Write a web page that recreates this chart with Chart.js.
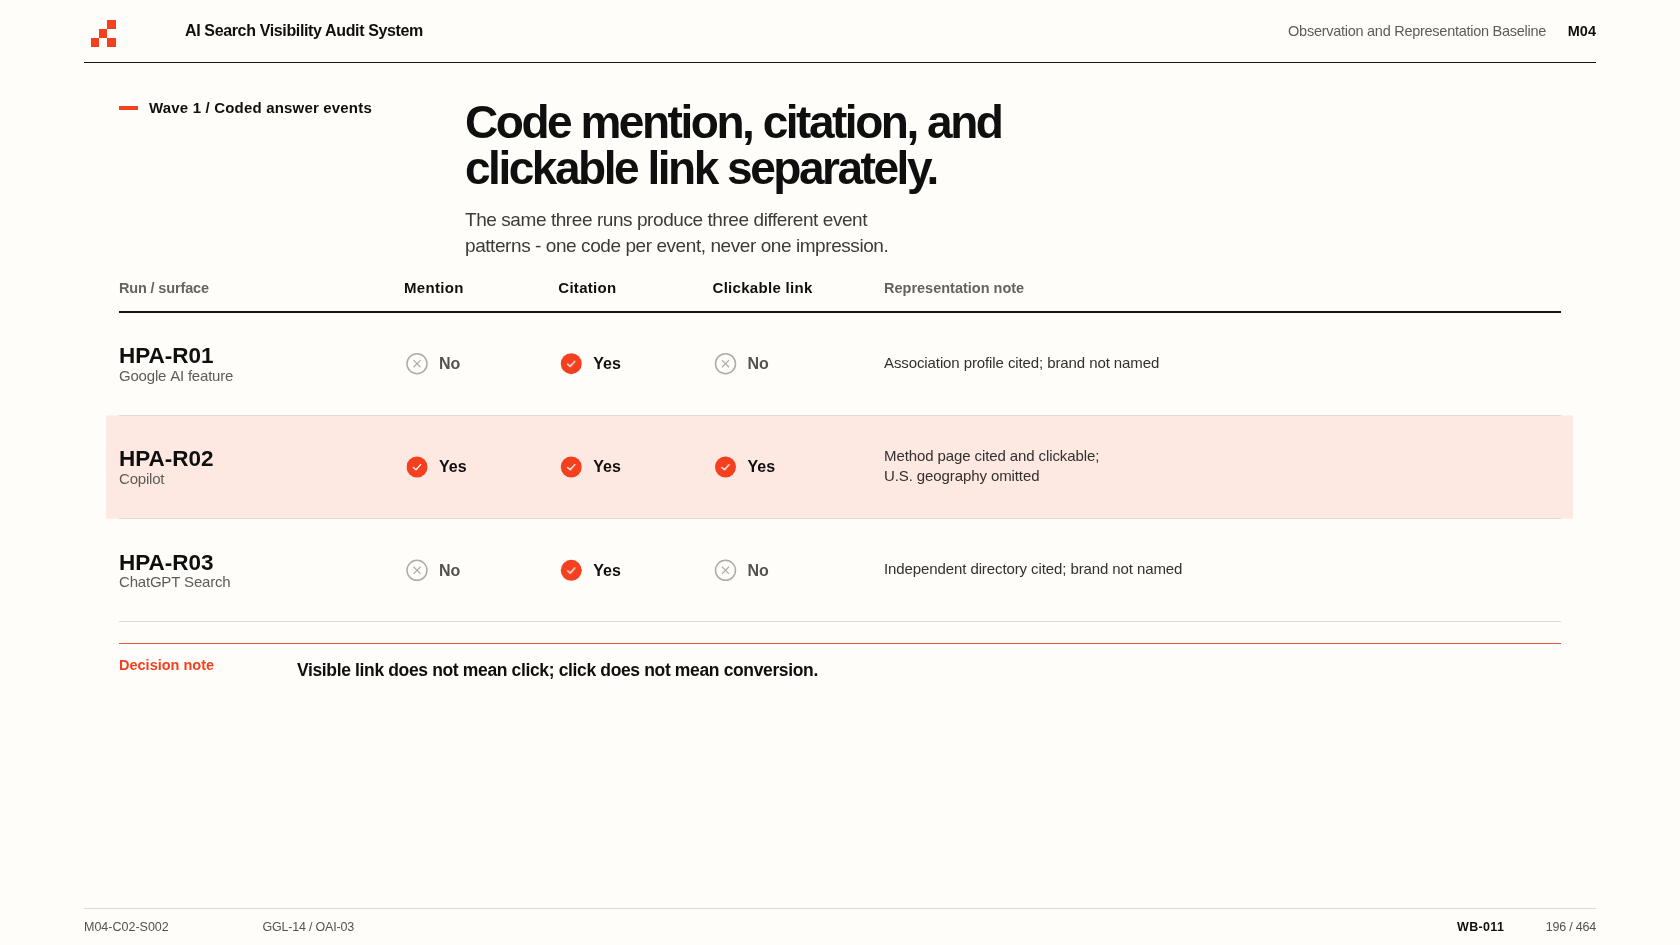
<!doctype html>
<html>
<head>
<meta charset="utf-8">
<script src="https://cdn.jsdelivr.net/npm/chart.js@4/dist/chart.umd.min.js"></script>
<style>
html,body{margin:0;padding:0;background:#fffdf9}
body{width:1680px;height:945px;overflow:hidden;position:relative;font-family:"Liberation Sans",Arial,sans-serif;color:#0f0f0f}
canvas{position:absolute;left:0;top:0}
.t{position:absolute;white-space:nowrap;line-height:1}
.rule{position:absolute;height:1px}
.sq{position:absolute;width:8.4px;height:8.8px;background:#f4401f}
</style>
</head>
<body>
<canvas id="chartA" width="1680" height="945"></canvas>

<div class="sq" style="left:107.3px;top:20.4px"></div>
<div class="sq" style="left:99.1px;top:29.2px"></div>
<div class="sq" style="left:91px;top:38px"></div>
<div class="sq" style="left:107.3px;top:38px"></div>
<div class="t" style="left:185px;top:23px;font-size:16px;font-weight:700;letter-spacing:-.36px">AI Search Visibility Audit System</div>
<div class="t" style="right:134px;top:24px;font-size:14.5px;letter-spacing:-.27px;color:#5f5c57">Observation and Representation Baseline</div>
<div class="t" style="right:84px;top:24px;font-size:14.5px;font-weight:700">M04</div>
<div class="rule" style="left:84px;width:1512px;top:62px;background:#151515"></div>

<div style="position:absolute;left:119px;top:106px;width:19px;height:4px;background:#f4401f"></div>
<div class="t" style="left:149px;top:100px;font-size:15px;font-weight:700;letter-spacing:.18px">Wave 1 / Coded answer events</div>
<div class="t" style="left:465px;top:99px;font-size:46px;font-weight:700;line-height:46px;letter-spacing:-2.47px">Code mention, citation, and<br>clickable link separately.</div>
<div class="t" style="left:465px;top:207px;font-size:19px;line-height:25.5px;letter-spacing:-.43px;color:#3d3b38">The same three runs produce three different event<br>patterns - one code per event, never one impression.</div>

<div class="t" style="left:119px;top:657.5px;font-size:14.5px;font-weight:700;color:#f4401f">Decision note</div>
<div class="t" style="left:297px;top:662px;font-size:17.5px;font-weight:700;letter-spacing:-.36px">Visible link does not mean click; click does not mean conversion.</div>

<div class="rule" style="left:84px;width:1512px;top:908px;background:#dcdad5"></div>
<div class="t" style="left:84px;top:921px;font-size:12.5px;color:#55524e">M04-C02-S002</div>
<div class="t" style="left:262.5px;top:921px;font-size:12.5px;letter-spacing:-.2px;color:#55524e">GGL-14 / OAI-03</div>
<div class="t" style="left:1457px;top:921px;font-size:12.5px;font-weight:700;letter-spacing:.35px">WB-011</div>
<div class="t" style="right:84px;top:921px;font-size:12.5px;letter-spacing:-.2px;color:#55524e">196 / 464</div>

<script>
const columns=['Mention','Citation','Clickable link'];
const runs=['HPA-R01','HPA-R02','HPA-R03'];
const surfaces=['Google AI feature','Copilot','ChatGPT Search'];
const mention=['No','Yes','No'];
const citation=['Yes','Yes','Yes'];
const clickable=['No','Yes','No'];
const notes=[['Association profile cited; brand not named'],['Method page cited and clickable;','U.S. geography omitted'],['Independent directory cited; brand not named']];
const highlightRun='HPA-R02';
const runHeader='Run / surface', noteHeader='Representation note';

const ORANGE='#f4401f', FONT='"Liberation Sans",Arial,sans-serif';
const byColumn=[mention,citation,clickable];
const cells=[];
columns.forEach((c,i)=>runs.forEach((r,j)=>cells.push({x:c,y:r,code:byColumn[i][j]})));
const yes=cells.filter(d=>d.code==='Yes'), no=cells.filter(d=>d.code==='No');

// white tick on top of the orange dots
const tick=document.createElement('canvas'); tick.width=tick.height=14;
const tc=tick.getContext('2d');
tc.strokeStyle='#fff'; tc.lineWidth=1.3; tc.lineCap='round'; tc.lineJoin='round';
tc.beginPath(); tc.moveTo(3.4,7.4); tc.lineTo(6,9.8); tc.lineTo(10.6,4.6); tc.stroke();

function label(ctx,str,x,y,font,color,ls){
  ctx.font=font; ctx.fillStyle=color; ctx.letterSpacing=ls||'0px';
  ctx.textAlign='left'; ctx.textBaseline='middle'; ctx.fillText(str,x,y);
}

const tablePlugin={
  id:'table',
  beforeDatasetsDraw(chart){
    const {ctx,scales:{x,y}}=chart;
    const band=Math.abs(y.getPixelForValue(runs[1])-y.getPixelForValue(runs[0]));
    const L=119,R=1561;
    ctx.save();
    const cy=y.getPixelForValue(highlightRun);
    ctx.fillStyle='#fee8e2'; ctx.fillRect(106,cy-band/2,1467,band);
    runs.forEach(r=>{
      const py=Math.floor(y.getPixelForValue(r)+band/2-0.1);
      ctx.fillStyle='#dedcd7'; ctx.fillRect(L,py,R-L,1);
    });
    ctx.fillStyle='#151515'; ctx.fillRect(L,y.top-1,R-L,2);
    ctx.fillStyle='#e8553a'; ctx.fillRect(L,y.bottom+21,R-L,1);

    const hy=y.top-23;
    label(ctx,runHeader,L,hy,'700 14.5px '+FONT,'#66635e','-.15px');
    columns.forEach(c=>label(ctx,c,x.getPixelForValue(c)-13,hy,'700 15px '+FONT,'#0f0f0f','.3px'));
    const nx=x.right+158.5;
    label(ctx,noteHeader,nx,hy,'700 14.5px '+FONT,'#66635e');
    runs.forEach((r,j)=>{
      const py=y.getPixelForValue(r);
      label(ctx,r,L,py-7,'700 22.5px '+FONT,'#0f0f0f');
      label(ctx,surfaces[j],L,py+13,'15px '+FONT,'#5f5c57','-.2px');
      const lines=notes[j], lh=20.5, top=py-(lines.length-1)*lh/2;
      lines.forEach((n,k)=>label(ctx,n,nx,top+k*lh,'15px '+FONT,'#33312e','-.1px'));
    });
    ctx.restore();
  },
  afterDatasetsDraw(chart){
    const {ctx,scales:{x,y}}=chart;
    ctx.save();
    cells.forEach(d=>{
      const isYes=d.code==='Yes';
      label(ctx,d.code,x.getPixelForValue(d.x)+22,y.getPixelForValue(d.y)+1,'700 16px '+FONT,isYes?'#0f0f0f':'#55524e');
    });
    ctx.restore();
  }
};

new Chart(document.getElementById('chartA'),{
  type:'scatter',
  data:{datasets:[
    {label:'Yes tick',data:yes,pointStyle:tick,pointRadius:7},
    {label:'Yes',data:yes,pointStyle:'circle',pointRadius:10.5,backgroundColor:ORANGE,borderColor:ORANGE,borderWidth:0},
    {label:'No cross',data:no,pointStyle:'crossRot',pointRadius:5,backgroundColor:'#aeaca7',borderColor:'#aeaca7',borderWidth:1.2},
    {label:'No',data:no,pointStyle:'circle',pointRadius:10,backgroundColor:'rgba(0,0,0,0)',borderColor:'#aeaca7',borderWidth:1.5}
  ]},
  options:{
    responsive:false,animation:false,
    layout:{padding:{left:417,right:1680-725.5,top:312,bottom:945-622}},
    plugins:{legend:{display:false},tooltip:{enabled:false}},
    scales:{
      x:{type:'category',labels:columns,offset:false,display:false},
      y:{type:'category',labels:runs,offset:true,display:false}
    }
  },
  plugins:[tablePlugin]
});
</script>
</body>
</html>
